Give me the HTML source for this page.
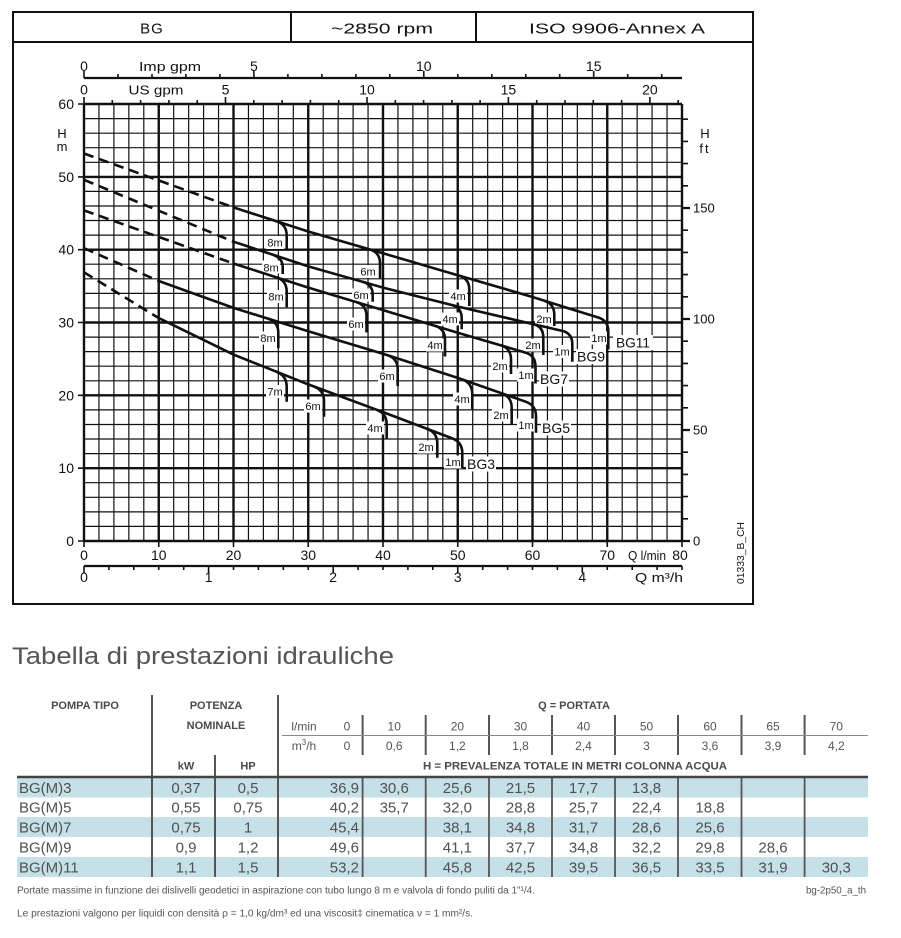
<!DOCTYPE html>
<html><head><meta charset="utf-8"><style>
html,body{margin:0;padding:0;background:#fff;}
svg{display:block;}
</style></head><body>
<svg width="901" height="938" viewBox="0 0 901 938" xmlns="http://www.w3.org/2000/svg" font-family="'Liberation Sans', 'DejaVu Sans', sans-serif">
<rect width="901" height="938" fill="#fff"/>

<!-- chart frame -->
<g stroke="#111" fill="none">
<rect x="13" y="12" width="740" height="592" stroke-width="2"/>
<line x1="13" y1="42" x2="753" y2="42" stroke-width="2"/>
<line x1="291" y1="12" x2="291" y2="42" stroke-width="2"/>
<line x1="476" y1="12" x2="476" y2="42" stroke-width="2"/>
</g>
<g fill="#111" font-size="15" text-anchor="middle">
<text x="152" y="33.5" letter-spacing="1">BG</text>
<text x="382" y="33.5" textLength="102" lengthAdjust="spacingAndGlyphs">~2850 rpm</text>
<text x="617" y="33.5" textLength="176" lengthAdjust="spacingAndGlyphs">ISO 9906-Annex A</text>
</g>

<!-- grid -->
<path fill="none" stroke="#111" stroke-width="1.2" d="M98.95 104V541M113.9 104V541M128.85 104V541M143.8 104V541M173.7 104V541M188.65 104V541M203.6 104V541M218.55 104V541M248.45 104V541M263.4 104V541M278.35 104V541M293.3 104V541M323.2 104V541M338.15 104V541M353.1 104V541M368.05 104V541M397.95 104V541M412.9 104V541M427.85 104V541M442.8 104V541M472.7 104V541M487.65 104V541M502.6 104V541M517.55 104V541M547.45 104V541M562.4 104V541M577.35 104V541M592.3 104V541M622.2 104V541M637.15 104V541M652.1 104V541M667.05 104V541
M84 526.4H682M84 511.9H682M84 497.3H682M84 482.7H682M84 453.6H682M84 439H682M84 424.5H682M84 409.9H682M84 380.8H682M84 366.2H682M84 351.6H682M84 337.1H682M84 308H682M84 293.4H682M84 278.8H682M84 264.2H682M84 235.1H682M84 220.5H682M84 206H682M84 191.4H682M84 162.3H682M84 147.7H682M84 133.2H682M84 118.6H682"/>
<path fill="none" stroke="#111" stroke-width="2.4" d="M84 104V541M158.75 104V541M233.5 104V541M308.25 104V541M383 104V541M457.75 104V541M532.5 104V541M607.25 104V541M682 104V541
M84 541H682M84 468.2H682M84 395.3H682M84 322.5H682M84 249.7H682M84 176.9H682M84 104H682"/>

<!-- ticks -->
<g stroke="#111" fill="none" stroke-width="1.6">
<path d="M84 104V97M112.3 104V100M140.6 104V100M168.9 104V100M197.2 104V100M225.5 104V97M253.8 104V100M282.1 104V100M310.4 104V100M338.7 104V100M367 104V97M395.3 104V100M423.6 104V100M451.9 104V100M480.1 104V100M508.4 104V97M536.7 104V100M565 104V100M593.3 104V100M621.6 104V100M649.9 104V97M678.2 104V100"/>
<path d="M84 78V71M118 78V74M152 78V74M185.9 78V74M219.9 78V74M253.9 78V71M287.9 78V74M321.9 78V74M355.9 78V74M389.8 78V74M423.8 78V71M457.8 78V74M491.8 78V74M525.8 78V74M559.7 78V74M593.7 78V71M627.7 78V74M661.7 78V74"/>
<path d="M78 104H84M78 176.9H84M78 249.7H84M78 322.5H84M78 395.3H84M78 468.2H84M78 541H84"/>
<path d="M682 518.8H688M682 496.6H688M682 474.4H688M682 452.2H688M682 407.8H688M682 385.6H688M682 363.4H688M682 341.2H688M682 296.8H688M682 274.6H688M682 252.4H688M682 230.2H688M682 185.8H688M682 163.6H688M682 141.4H688M682 119.2H688"/>
<path stroke-width="2.2" d="M682 541H690M682 430H690M682 319H690M682 208H690"/>
<path d="M84 541V547M158.75 541V547M233.5 541V547M308.25 541V547M383 541V547M457.75 541V547M532.5 541V547M607.25 541V547M682 541V547"/>
<path d="M84 566V573M108.9 566V570M133.8 566V570M158.75 566V570M183.7 566V570M208.6 566V573M233.5 566V570M258.4 566V570M283.3 566V570M308.25 566V570M333.2 566V573M358.1 566V570M383 566V570M407.9 566V570M432.8 566V570M457.75 566V573M482.7 566V570M507.6 566V570M532.5 566V570M557.4 566V570M582.3 566V573M607.25 566V570M632.2 566V570M657.1 566V570M682 566V570"/>
</g>
<line x1="84" y1="78" x2="682" y2="78" stroke="#111" stroke-width="2.2"/>
<line x1="84" y1="566" x2="682" y2="566" stroke="#111" stroke-width="2.2"/>

<!-- axis labels -->
<g fill="#111" font-size="14">
<g text-anchor="end">
<text x="74" y="109">60</text><text x="74" y="181.9">50</text><text x="74" y="254.7">40</text><text x="74" y="327.5">30</text><text x="74" y="400.3">20</text><text x="74" y="473.2">10</text><text x="74" y="546">0</text>
</g>
<g text-anchor="start" font-size="13">
<text x="693" y="212.5">150</text><text x="693" y="323.5">100</text><text x="693" y="434.5">50</text><text x="693" y="545.5">0</text>
</g>
<g text-anchor="middle" font-size="13">
<text x="62" y="138">H</text><text x="62" y="151">m</text>
<text x="705" y="138">H</text><text x="705" y="153" letter-spacing="2">ft</text>
</g>
<g text-anchor="middle">
<text x="84" y="560">0</text><text x="158.75" y="560">10</text><text x="233.5" y="560">20</text><text x="308.25" y="560">30</text><text x="383" y="560">40</text><text x="457.75" y="560">50</text><text x="532.5" y="560">60</text><text x="607.25" y="560">70</text>
<text x="647" y="560" font-size="13" textLength="38" lengthAdjust="spacingAndGlyphs">Q l/min</text>
<text x="680" y="560">80</text>
<text x="84" y="582">0</text><text x="208.6" y="582">1</text><text x="333.2" y="582">2</text><text x="457.75" y="582">3</text><text x="582.3" y="582">4</text>
<text x="659" y="582" font-size="13" textLength="48" lengthAdjust="spacingAndGlyphs">Q m³/h</text>
<text x="84" y="71">0</text><text x="170" y="71" font-size="13" textLength="62" lengthAdjust="spacingAndGlyphs">Imp gpm</text><text x="253.9" y="71">5</text><text x="423.8" y="71">10</text><text x="593.7" y="71">15</text>
<text x="84" y="94.5">0</text><text x="156" y="94.5" font-size="13" textLength="55" lengthAdjust="spacingAndGlyphs">US gpm</text><text x="225.5" y="94.5">5</text><text x="367" y="94.5">10</text><text x="508.4" y="94.5">15</text><text x="649.9" y="94.5">20</text>
</g>
<text transform="translate(744,553) rotate(-90)" text-anchor="middle" font-size="10" textLength="62" lengthAdjust="spacingAndGlyphs">01333_B_CH</text>
</g>

<!-- label backgrounds -->
<g fill="#fff">
<rect x="266" y="236" width="18" height="13"/><rect x="359" y="265" width="18" height="13"/><rect x="449" y="289.5" width="18" height="13"/><rect x="535" y="312.5" width="18" height="13"/><rect x="590" y="331.5" width="18" height="13"/><rect x="613" y="335" width="40" height="15"/>
<rect x="262" y="260.5" width="18" height="13"/><rect x="352" y="288.5" width="18" height="13"/><rect x="441" y="312.5" width="18" height="13"/><rect x="524" y="338.5" width="18" height="13"/><rect x="553" y="345" width="18" height="13"/><rect x="576" y="349" width="30" height="15"/>
<rect x="267" y="290" width="18" height="13"/><rect x="347" y="317.5" width="18" height="13"/><rect x="426" y="338.5" width="18" height="13"/><rect x="491" y="359.5" width="18" height="13"/><rect x="517" y="368.5" width="18" height="13"/><rect x="539" y="371.5" width="30" height="15"/>
<rect x="259" y="331.5" width="18" height="13"/><rect x="378" y="369.5" width="18" height="13"/><rect x="453" y="392.5" width="18" height="13"/><rect x="492" y="408.5" width="18" height="13"/><rect x="517" y="418.5" width="18" height="13"/><rect x="541" y="420.5" width="30" height="15"/>
<rect x="266" y="385" width="18" height="13"/><rect x="304" y="399.5" width="18" height="13"/><rect x="366" y="421.5" width="18" height="13"/><rect x="417" y="440.5" width="18" height="13"/><rect x="444" y="455.5" width="18" height="13"/><rect x="466" y="456.5" width="30" height="15"/>
</g>

<!-- curves -->
<g fill="none" stroke="#111" stroke-width="2.6" stroke-linejoin="round">
<g stroke-dasharray="10 6">
<path d="M84 153.5L233.5 207.4"/>
<path d="M84 179.8L233.5 241.7"/>
<path d="M84 210.4L233.5 263.5"/>
<path d="M84 248.2L158.75 281"/>
<path d="M84 272.3L158.75 318.1"/>
</g>
<!-- BG11 -->
<path d="M233.5 207.4L308.25 231.5L383 253.3L457.75 275.2L532.5 297L569.9 308.7L598.3 317.5Q608.3 320.6 608.3 331.6L608.3 349.3"/>
<path d="M276.7 221.3Q286.7 224.6 286.7 235.6L286.7 249.3M370 249.5Q380 252.4 380 263.4L380 278.3M459.3 275.7Q469.3 278.6 469.3 289.6L469.3 306M544.3 300.7Q554.3 303.8 554.3 314.8L554.3 326"/>
<!-- BG9 -->
<path d="M233.5 241.7L308.25 266.4L383 287.6L457.75 306.5L532.5 324L562.3 330.9Q572.3 333.3 572.3 344.3L572.3 361.7"/>
<path d="M272.7 254.7Q282.7 258 282.7 267L282.7 274M362.7 281.8Q372.7 284.7 372.7 294.7L372.7 301.7M451.7 305Q461.7 307.4 461.7 318.4L461.7 329.3M533.3 324.2Q543.3 326.5 543.3 337.5L543.3 355"/>
<!-- BG7 -->
<path d="M233.5 263.5L308.25 287.6L383 310.1L457.75 332.7L525.5 352.6Q535.5 355.5 535.5 366.5L535.5 383.5"/>
<path d="M276.7 277.4Q286.7 280.7 286.7 291.7L286.7 307.3M356.5 302.1Q366.5 305.1 366.5 316.1L366.5 332.5M435 325.8Q445 328.8 445 339.8L445 356.5M501 345.4Q511 348.3 511 359.3L511 374"/>
<!-- BG5 -->
<path d="M158.75 281L233.5 307.9L308.25 331.2L383 353.8L457.75 377.9L526 401.8Q536 405.3 536 416.3L536 432.7"/>
<path d="M268.3 318.8Q278.3 321.9 278.3 332.9L278.3 348.3M387.7 355.3Q397.7 358.5 397.7 369.5L397.7 386M462.3 379.5Q472.3 383 472.3 394L472.3 409.3M501.7 393.3Q511.7 396.8 511.7 407.8L511.7 424"/>
<!-- BG3 -->
<path d="M158.75 318.1L233.5 354.6L308.25 384.4L383 412.1L452.3 438.4Q462.3 442.2 462.3 453.2L462.3 468.3"/>
<path d="M276.7 371.8Q286.7 375.8 286.7 386.8L286.7 401.7M314 386.5Q324 390.2 324 401.2L324 416.7M376.7 409.8Q386.7 413.5 386.7 424.5L386.7 439.3M427.3 428.9Q437.3 432.7 437.3 443.7L437.3 457.7"/>
</g>

<!-- curve labels -->
<g fill="#111" font-size="11" text-anchor="middle">
<text x="275" y="246.7">8m</text><text x="368" y="275.7">6m</text><text x="458" y="300">4m</text><text x="544" y="323">2m</text><text x="599" y="342">1m</text>
<text x="271" y="271.3">8m</text><text x="361" y="299">6m</text><text x="450" y="323">4m</text><text x="533" y="349">2m</text><text x="562" y="355.7">1m</text>
<text x="276" y="300.7">8m</text><text x="356" y="328">6m</text><text x="435" y="349">4m</text><text x="500" y="370">2m</text><text x="526" y="379">1m</text>
<text x="268" y="342">8m</text><text x="387" y="380">6m</text><text x="462" y="403">4m</text><text x="501" y="419">2m</text><text x="526" y="429">1m</text>
<text x="275" y="395.7">7m</text><text x="313" y="410">6m</text><text x="375" y="432">4m</text><text x="426" y="451">2m</text><text x="453" y="466">1m</text>
</g>
<g fill="#111" font-size="14" text-anchor="middle">
<text x="633" y="347.5" textLength="34" lengthAdjust="spacingAndGlyphs">BG11</text>
<text x="591" y="361.5">BG9</text>
<text x="554" y="384">BG7</text>
<text x="556" y="433">BG5</text>
<text x="481" y="469">BG3</text>
</g>

<!-- title -->
<text x="12" y="664" font-size="24" fill="#555" textLength="382" lengthAdjust="spacingAndGlyphs">Tabella di prestazioni idrauliche</text>

<!-- table -->
<g fill="#c6e0e7">
<rect x="17" y="778" width="851" height="19.5"/>
<rect x="17" y="817" width="851" height="20"/>
<rect x="17" y="857" width="851" height="20"/>
</g>
<g stroke="#555" fill="none">
<path stroke-width="2" d="M152 695V877M278 695V877M215 755V877"/>
<path stroke-width="2" d="M362.6 715V755M425.7 715V755M489 715V755M552 715V755M615 715V755M678 715V755M741.5 715V755M804.6 715V755"/>
<path stroke-width="1.8" d="M362.6 778V877M425.7 778V877M489 778V877M552 778V877M615 778V877M678 778V877M741.5 778V877M804.6 778V877"/>
<line x1="282" y1="735.5" x2="868" y2="735.5" stroke="#888" stroke-width="1"/>
<line x1="17" y1="777" x2="868" y2="777" stroke="#444" stroke-width="2.6"/>
</g>
<g fill="#4a4a4a" font-size="11" text-anchor="middle" font-weight="bold">
<text x="85" y="709">POMPA TIPO</text>
<text x="216" y="709">POTENZA</text>
<text x="216" y="729">NOMINALE</text>
<text x="574" y="709">Q = PORTATA</text>
<text x="186" y="769.5">kW</text>
<text x="248" y="769.5">HP</text>
<text x="575" y="769.5" textLength="304" lengthAdjust="spacingAndGlyphs">H = PREVALENZA TOTALE IN METRI COLONNA ACQUA</text>
</g>
<g fill="#555" font-size="12" text-anchor="middle">
<text x="304" y="730.5">l/min</text>
<text x="347" y="730.5">0</text><text x="394.2" y="730.5">10</text><text x="457.4" y="730.5">20</text><text x="520.5" y="730.5">30</text><text x="583.5" y="730.5">40</text><text x="646.5" y="730.5">50</text><text x="710" y="730.5">60</text><text x="773" y="730.5">65</text><text x="836.3" y="730.5">70</text>
<text x="304" y="750">m<tspan font-size="8" dy="-5">3</tspan><tspan dy="5">/h</tspan></text>
<text x="347" y="750">0</text><text x="394.2" y="750">0,6</text><text x="457.4" y="750">1,2</text><text x="520.5" y="750">1,8</text><text x="583.5" y="750">2,4</text><text x="646.5" y="750">3</text><text x="710" y="750">3,6</text><text x="773" y="750">3,9</text><text x="836.3" y="750">4,2</text>
</g>
<g fill="#505050" font-size="15">
<g text-anchor="start">
<text x="19" y="793">BG(M)3</text><text x="19" y="812.5">BG(M)5</text><text x="19" y="832.5">BG(M)7</text><text x="19" y="852.5">BG(M)9</text><text x="19" y="872.5">BG(M)11</text>
</g>
<g text-anchor="end">
<text x="359" y="793">36,9</text><text x="359" y="812.5">40,2</text><text x="359" y="832.5">45,4</text><text x="359" y="852.5">49,6</text><text x="359" y="872.5">53,2</text>
</g>
<g text-anchor="middle">
<text x="186" y="793">0,37</text><text x="248" y="793">0,5</text>
<text x="394.2" y="793">30,6</text><text x="457.4" y="793">25,6</text><text x="520.5" y="793">21,5</text><text x="583.5" y="793">17,7</text><text x="646.5" y="793">13,8</text>
<text x="186" y="812.5">0,55</text><text x="248" y="812.5">0,75</text>
<text x="394.2" y="812.5">35,7</text><text x="457.4" y="812.5">32,0</text><text x="520.5" y="812.5">28,8</text><text x="583.5" y="812.5">25,7</text><text x="646.5" y="812.5">22,4</text><text x="710" y="812.5">18,8</text>
<text x="186" y="832.5">0,75</text><text x="248" y="832.5">1</text>
<text x="457.4" y="832.5">38,1</text><text x="520.5" y="832.5">34,8</text><text x="583.5" y="832.5">31,7</text><text x="646.5" y="832.5">28,6</text><text x="710" y="832.5">25,6</text>
<text x="186" y="852.5">0,9</text><text x="248" y="852.5">1,2</text>
<text x="457.4" y="852.5">41,1</text><text x="520.5" y="852.5">37,7</text><text x="583.5" y="852.5">34,8</text><text x="646.5" y="852.5">32,2</text><text x="710" y="852.5">29,8</text><text x="773" y="852.5">28,6</text>
<text x="186" y="872.5">1,1</text><text x="248" y="872.5">1,5</text>
<text x="457.4" y="872.5">45,8</text><text x="520.5" y="872.5">42,5</text><text x="583.5" y="872.5">39,5</text><text x="646.5" y="872.5">36,5</text><text x="710" y="872.5">33,5</text><text x="773" y="872.5">31,9</text><text x="836.3" y="872.5">30,3</text>
</g>
</g>

<!-- footnotes -->
<g fill="#555" font-size="10">
<text x="17" y="893.5" textLength="518" lengthAdjust="spacingAndGlyphs">Portate massime in funzione dei dislivelli geodetici in aspirazione con tubo lungo 8 m e valvola di fondo puliti da 1"¹/4.</text>
<text x="866" y="893.5" text-anchor="end" textLength="60" lengthAdjust="spacingAndGlyphs">bg-2p50_a_th</text>
<text x="17" y="916.5" textLength="456" lengthAdjust="spacingAndGlyphs">Le prestazioni valgono per liquidi con densità ρ = 1,0 kg/dm³ ed una viscosit‡ cinematica ν = 1 mm²/s.</text>
</g>
</svg>
</body></html>
